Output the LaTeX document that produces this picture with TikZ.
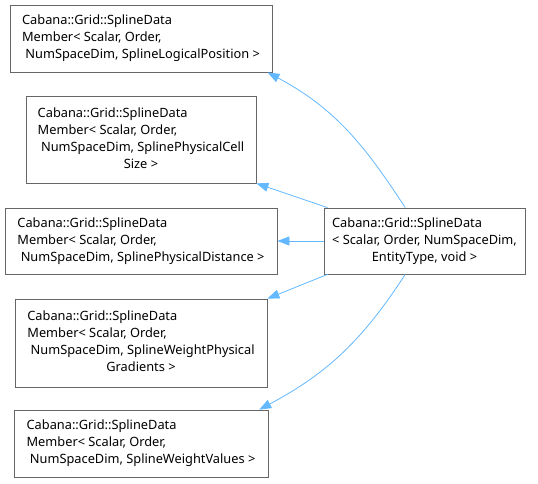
\documentclass[tikz,border=0pt]{standalone}
\usepackage{fontspec}
\setmainfont{Noto Sans}
\usepackage{tikz}
\usetikzlibrary{arrows.meta}
\definecolor{edgeblue}{HTML}{63B8FF}
\definecolor{boxgray}{HTML}{666666}
\newcommand\ctr[1]{\multicolumn{1}{@{}c@{}}{#1}}
\newcommand\lines[1]{\begin{tabular}{@{}l@{}}#1\end{tabular}}

\begin{document}
\begin{tikzpicture}[x=1pt,y=1pt,
		cls/.style args = {#1/#2}{%
			draw=boxgray, line width=0.8pt, minimum width=#1,
			minimum height=#2, inner sep=0pt,
			font=\fontsize{12.8}{17}\selectfont},
		inh/.style = {draw=edgeblue, line width=0.8pt,
			-{Triangle[length=12pt,width=9pt]}}
		]
		\useasboundingbox (0,0) rectangle (538,-484);
		\node (n1) [cls=262pt/67pt] at (141,-38.5) {\lines{Cabana::Grid::SplineData\\Member< Scalar, Order,\\\ctr{\ NumSpaceDim, SplineLogicalPosition >}}};
		\node (n2) [cls=230pt/87pt] at (141,-139.5) {\lines{Cabana::Grid::SplineData\\Member< Scalar, Order,\\\ctr{\ NumSpaceDim, SplinePhysicalCell}\\\ctr{Size >}}};
		\node (n3) [cls=272pt/66pt] at (141,-241) {\lines{Cabana::Grid::SplineData\\Member< Scalar, Order,\\\ctr{\ NumSpaceDim, SplinePhysicalDistance >}}};
		\node (n4) [cls=252pt/88pt] at (141,-343) {\lines{Cabana::Grid::SplineData\\Member< Scalar, Order,\\\ctr{\ NumSpaceDim, SplineWeightPhysical}\\\ctr{Gradients >}}};
		\node (n5) [cls=254pt/67pt] at (141,-443.5) {\lines{Cabana::Grid::SplineData\\Member< Scalar, Order,\\\ctr{\ NumSpaceDim, SplineWeightValues >}}};
		\node (m) [cls=201pt/66pt] at (424.5,-241) {\lines{Cabana::Grid::SplineData\\< Scalar, Order, NumSpaceDim,\\\ctr{EntityType, void >}}};
		\foreach \from/\to in {m.161/n2.south east, m.west/n3.east, m.199/n4.north east}
		\draw [inh] (\from) -- (\to);
		\draw [inh] (m.120) to[out=123,in=-28] (n1.-15);
		\draw [inh] (m.240) to[out=-123,in=28] (n5.16);
	\end{tikzpicture}
\end{document}
